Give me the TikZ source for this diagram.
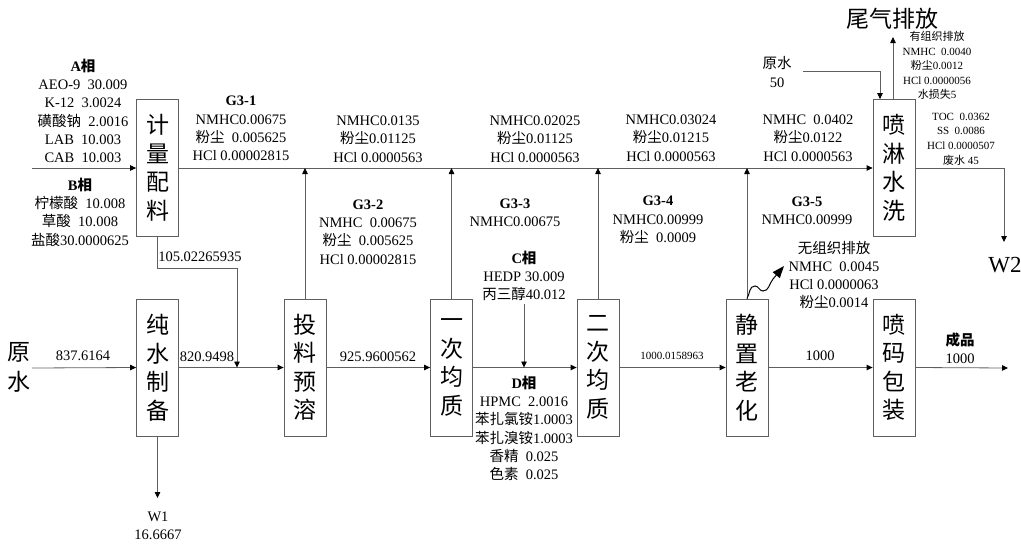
\documentclass[tikz,border=0pt]{standalone}
\usepackage{fontspec}
\setmainfont{Liberation Serif}
\newfontfamily\cjk{Noto Sans CJK SC}
\newcommand\zh[1]{{\cjk #1}}
\usetikzlibrary{arrows.meta}
\definecolor{lc}{RGB}{95,95,95}
\begin{document}
\begin{tikzpicture}[x=1pt,y=-1pt,
  line/.style={draw=lc, line width=0.8pt},
  arr/.style={line, -{Triangle[length=6pt,width=5.5pt,color=black]}},
  proc/.style={draw=lc, line width=0.8pt, minimum width=42pt, minimum height=137pt, inner sep=0pt, align=center, font=\cjk\fontsize{23}{28.5}\selectfont},
  lbl/.style={inner sep=0pt, align=center, font=\fontsize{14.5}{18.3}\selectfont},
  sm/.style={inner sep=0pt, align=center, font=\fontsize{11}{14.6}\selectfont},
  big/.style={inner sep=0pt, align=center, font=\fontsize{23}{30}\selectfont}]
\useasboundingbox (0,0) rectangle (1021,544);
% process boxes
\node[proc] (b1) at (157.5,168) {计\\量\\配\\料};
\node[proc] (b2) at (157.5,367.5) {纯\\水\\制\\备};
\node[proc] (b3) at (305,367.5) {投\\料\\预\\溶};
\node[proc] (b4) at (451.5,367.5) {一\\次\\均\\质};
\node[proc] (b5) at (598,367.5) {二\\次\\均\\质};
\node[proc] (b6) at (747,367.5) {静\\置\\老\\化};
\node[proc] (b7) at (894,367.5) {喷\\码\\包\\装};
\node[proc] (b8) at (894,168) {喷\\淋\\水\\洗};
% coordinates
\coordinate (inA) at (32,168);
\coordinate (inW) at (32,368);
\coordinate (j1) at (237,268);
\coordinate (w1) at (157.5,498);
\coordinate (cC) at (524,304);
\coordinate (out) at (1008,368);
\coordinate (rw) at (803,71);
\coordinate (rwk) at (880,71);
\coordinate (gas) at (893,37);
\coordinate (w2k) at (1004,168);
\coordinate (w2) at (1004,242);
\coordinate (wv1) at (755,286);
\coordinate (wv2) at (763,291);
\coordinate (wv3) at (773,279);
\coordinate (wv) at (784,266);
% connectors
\draw[arr] (inA) -- (b1.west);
\draw[arr] (b1.east) -- (b8.west);
\draw[arr] (b3.north) -- (b3.north |- b1.east);
\draw[arr] (b4.north) -- (b4.north |- b1.east);
\draw[arr] (b5.north) -- (b5.north |- b1.east);
\draw[arr] (b6.north) -- (b6.north |- b1.east);
\draw[arr] (inW) -- (b2.west);
\draw[arr] (b2.east) -- (b3.west);
\draw[arr] (b3.east) -- (b4.west);
\draw[arr] (b4.east) -- (b5.west);
\draw[arr] (b5.east) -- (b6.west);
\draw[arr] (b6.east) -- (b7.west);
\draw[arr] (b7.east) -- (out);
\draw[arr] (b1.south) |- (j1) -- (j1 |- b2.east);
\draw[arr] (b2.south) -- (w1);
\draw[arr] (cC) -- (cC |- b4.east);
\draw[arr] (rw) -- (rwk) -- (rwk |- b8.north);
\draw[arr] (gas |- b8.north) -- (gas);
\draw[arr] (b8.east) -- (w2k) -- (w2);
\draw[line width=1pt, black, -{Triangle[length=12pt,width=9pt]}] (b6.north) to[out=60,in=180] (wv1) to[out=0,in=180] (wv2) to[out=0,in=230] (wv3) -- (wv);
% labels
\node[lbl] (tA) at (83,111) {\textbf{A\zh{相}}\\AEO-9\ \ 30.009\\K-12\ \ 3.0024\\\zh{磺酸钠}\ \ 2.0016\\LAB\ \ 10.003\\CAB\ \ 10.003};
\node[lbl] (tB) at (80,212) {\textbf{B\zh{相}}\\\zh{柠檬酸}\ \ 10.008\\\zh{草酸}\ \ 10.008\\\zh{盐酸}30.0000625};
\node[lbl] (t105) at (200,257) {105.02265935};
\node[lbl] (g31) at (241,128.5) {\textbf{G3-1}\\NMHC0.00675\\\zh{粉尘}\ \ 0.005625\\HCl 0.00002815};
\node[lbl] (s2) at (378,139) {NMHC0.0135\\\zh{粉尘}0.01125\\HCl 0.0000563};
\node[lbl] (s3) at (535,139) {NMHC0.02025\\\zh{粉尘}0.01125\\HCl 0.0000563};
\node[lbl] (s4) at (671,138) {NMHC0.03024\\\zh{粉尘}0.01215\\HCl 0.0000563};
\node[lbl] (s5) at (808,138) {NMHC\ \ 0.0402\\\zh{粉尘}0.0122\\HCl 0.0000563};
\node[lbl] (g32) at (368,232) {\textbf{G3-2}\\NMHC\ \ 0.00675\\\zh{粉尘}\ \ 0.005625\\HCl 0.00002815};
\node[lbl] (g33) at (515,213) {\textbf{G3-3}\\NMHC0.00675};
\node[lbl] (tC) at (524,276) {\textbf{C\zh{相}}\\HEDP 30.009\\\zh{丙三醇}40.012};
\node[lbl] (g34) at (658,220) {\textbf{G3-4}\\NMHC0.00999\\\zh{粉尘}\ \ 0.0009};
\node[lbl] (g35) at (807,211) {\textbf{G3-5}\\NMHC0.00999};
\node[lbl] (fug) at (834,275) {\zh{无组织排放}\\NMHC\ \ 0.0045\\HCl 0.0000063\\\zh{粉尘}0.0014};
\node[sm] (org) at (937,65.5) {\zh{有组织排放}\\NMHC\ \ 0.0040\\\zh{粉尘}0.0012\\HCl 0.0000056\\\zh{水损失}5};
\node[lbl] (rw50) at (777,72) {\zh{原水}\\50};
\node[sm] (toc) at (961,139) {TOC\ \ 0.0362\\SS\ \ 0.0086\\HCl 0.0000507\\\zh{废水} 45};
\node[big] (tail) at (892,19) {\zh{尾气排放}};
\node[big] (tW2) at (1005,265) {W2};
\node[big] (yuan) at (19,367) {\zh{原}\\\zh{水}};
\node[lbl] (t837) at (83,356) {837.6164};
\node[lbl] (t820) at (207,357) {820.9498};
\node[lbl] (t925) at (378,357) {925.9600562};
\node[lbl] (tD) at (524,428.5) {\textbf{D\zh{相}}\\HPMC\ \ 2.0016\\\zh{苯扎氯铵}1.0003\\\zh{苯扎溴铵}1.0003\\\zh{香精}\ \ 0.025\\\zh{色素}\ \ 0.025};
\node[sm] (t1000a) at (672,356) {1000.0158963};
\node[lbl] (t1000b) at (820,356) {1000};
\node[lbl] (prod) at (960,348.5) {\textbf{\zh{成品}}\\1000};
\node[lbl] (tW1) at (158,526) {W1\\16.6667};
\end{tikzpicture}
\end{document}
